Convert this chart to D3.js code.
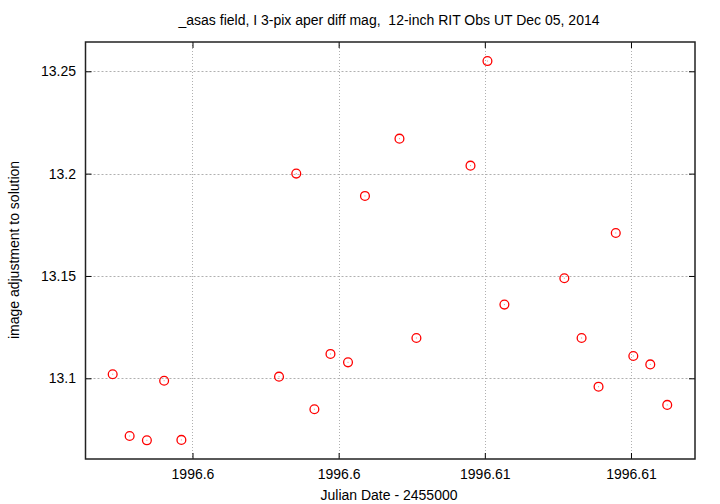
<!DOCTYPE html>
<html><head><meta charset="utf-8">
<script src="https://cdn.jsdelivr.net/npm/d3@7"></script>
<style>body{margin:0;background:#fff}svg{display:block}text{font-family:"Liberation Sans",Arial,sans-serif;fill:#000}</style>
</head><body>
<svg id="c" width="720" height="504"></svg>
<script>
const titleText = "_asas field, I 3-pix aper diff mag,  12-inch RIT Obs UT Dec 05, 2014";
const xLabel = "Julian Date - 2455000";
const yLabel = "image adjustment to solution";
const jd = [1996.59727,1996.59785,1996.59844,1996.59903,1996.59962,1996.60296,1996.60355,1996.60417,1996.60472,1996.60532,1996.60590,1996.60708,1996.60766,1996.60951,1996.61009,1996.61067,1996.61272,1996.61331,1996.61389,1996.61448,1996.61508,1996.61566,1996.61624];
const mag = [13.102,13.0718,13.0697,13.0988,13.0699,13.1008,13.2000,13.0849,13.1119,13.1078,13.1891,13.2171,13.1197,13.2039,13.2550,13.1360,13.1489,13.1197,13.0959,13.1710,13.1109,13.1068,13.0870];
const xTickValues = [1996.600,1996.605,1996.610,1996.615];
const xTickLabels = ["1996.6","1996.6","1996.61","1996.61"];
const yTickValues = [13.1,13.15,13.2,13.25];
const yTickLabels = ["13.1","13.15","13.2","13.25"];
const xDomain = [1996.59634,1996.61719];
const yDomain = [13.06057,13.26431];

const L=85.5,R=695,T=42,B=459;
const FS="14px";
const svg=d3.select("#c");
const x=d3.scaleLinear().domain(xDomain).range([L,R]);
const y=d3.scaleLinear().domain(yDomain).range([B,T]);

// grid
const g=svg.append("g");
g.selectAll(".gx").data(xTickValues).enter().append("line")
 .attr("x1",d=>Math.round(x(d))+0.5).attr("x2",d=>Math.round(x(d))+0.5).attr("y1",T).attr("y2",B)
 .attr("stroke","#b0b0b0").attr("stroke-width",1).attr("stroke-dasharray","1,2");
g.selectAll(".gy").data(yTickValues).enter().append("line")
 .attr("y1",d=>Math.round(y(d))+0.5).attr("y2",d=>Math.round(y(d))+0.5).attr("x1",L).attr("x2",R)
 .attr("stroke","#b0b0b0").attr("stroke-width",1).attr("stroke-dasharray","2,2");

// axes with inward ticks
const xb=d3.axisBottom(x).tickValues(xTickValues).tickFormat((d,i)=>xTickLabels[i]).tickSizeInner(-6).tickSizeOuter(0).tickPadding(10);
const xt=d3.axisTop(x).tickValues(xTickValues).tickFormat("").tickSizeInner(-6).tickSizeOuter(0);
const yl=d3.axisLeft(y).tickValues(yTickValues).tickFormat((d,i)=>yTickLabels[i]).tickSizeInner(-6).tickSizeOuter(0).tickPadding(9.5);
const yr=d3.axisRight(y).tickValues(yTickValues).tickFormat("").tickSizeInner(-6).tickSizeOuter(0);
function style(sel){sel.select(".domain").remove();sel.selectAll("line").attr("stroke","#000");sel.selectAll("text").style("font-size",FS).attr("fill","#000").style("font-family","'Liberation Sans',Arial,sans-serif");}
svg.append("g").attr("transform",`translate(0,${B})`).call(xb).call(style);
svg.append("g").attr("transform",`translate(0,${T})`).call(xt).call(style);
svg.append("g").attr("transform",`translate(${L},0)`).call(yl).call(style);
svg.append("g").attr("transform",`translate(${R},0)`).call(yr).call(style);

// border
svg.append("rect").attr("x",L).attr("y",T).attr("width",R-L).attr("height",B-T)
 .attr("fill","none").attr("stroke","#222").attr("stroke-width",1.5);

// points
const pts=svg.append("g");
pts.selectAll("circle.o").data(jd).enter().append("circle")
 .attr("cx",(d)=>x(d)).attr("cy",(d,i)=>y(mag[i])).attr("r",4.4)
 .attr("fill","none").attr("stroke","#ff0000").attr("stroke-width",1.3);
pts.selectAll("rect.c").data(jd).enter().append("rect")
 .attr("x",d=>x(d)-0.5).attr("y",(d,i)=>y(mag[i])-0.5).attr("width",1).attr("height",1)
 .attr("fill","#ff8080");

// texts
svg.append("text").attr("x",389).attr("y",25).attr("text-anchor","middle").style("font-size",FS).style("white-space","pre").text(titleText);
svg.append("text").attr("x",389).attr("y",500).attr("text-anchor","middle").style("font-size",FS).text(xLabel);
svg.append("text").attr("transform","translate(19,250) rotate(-90)").attr("text-anchor","middle").style("font-size",FS).text(yLabel);
</script>
</body></html>
